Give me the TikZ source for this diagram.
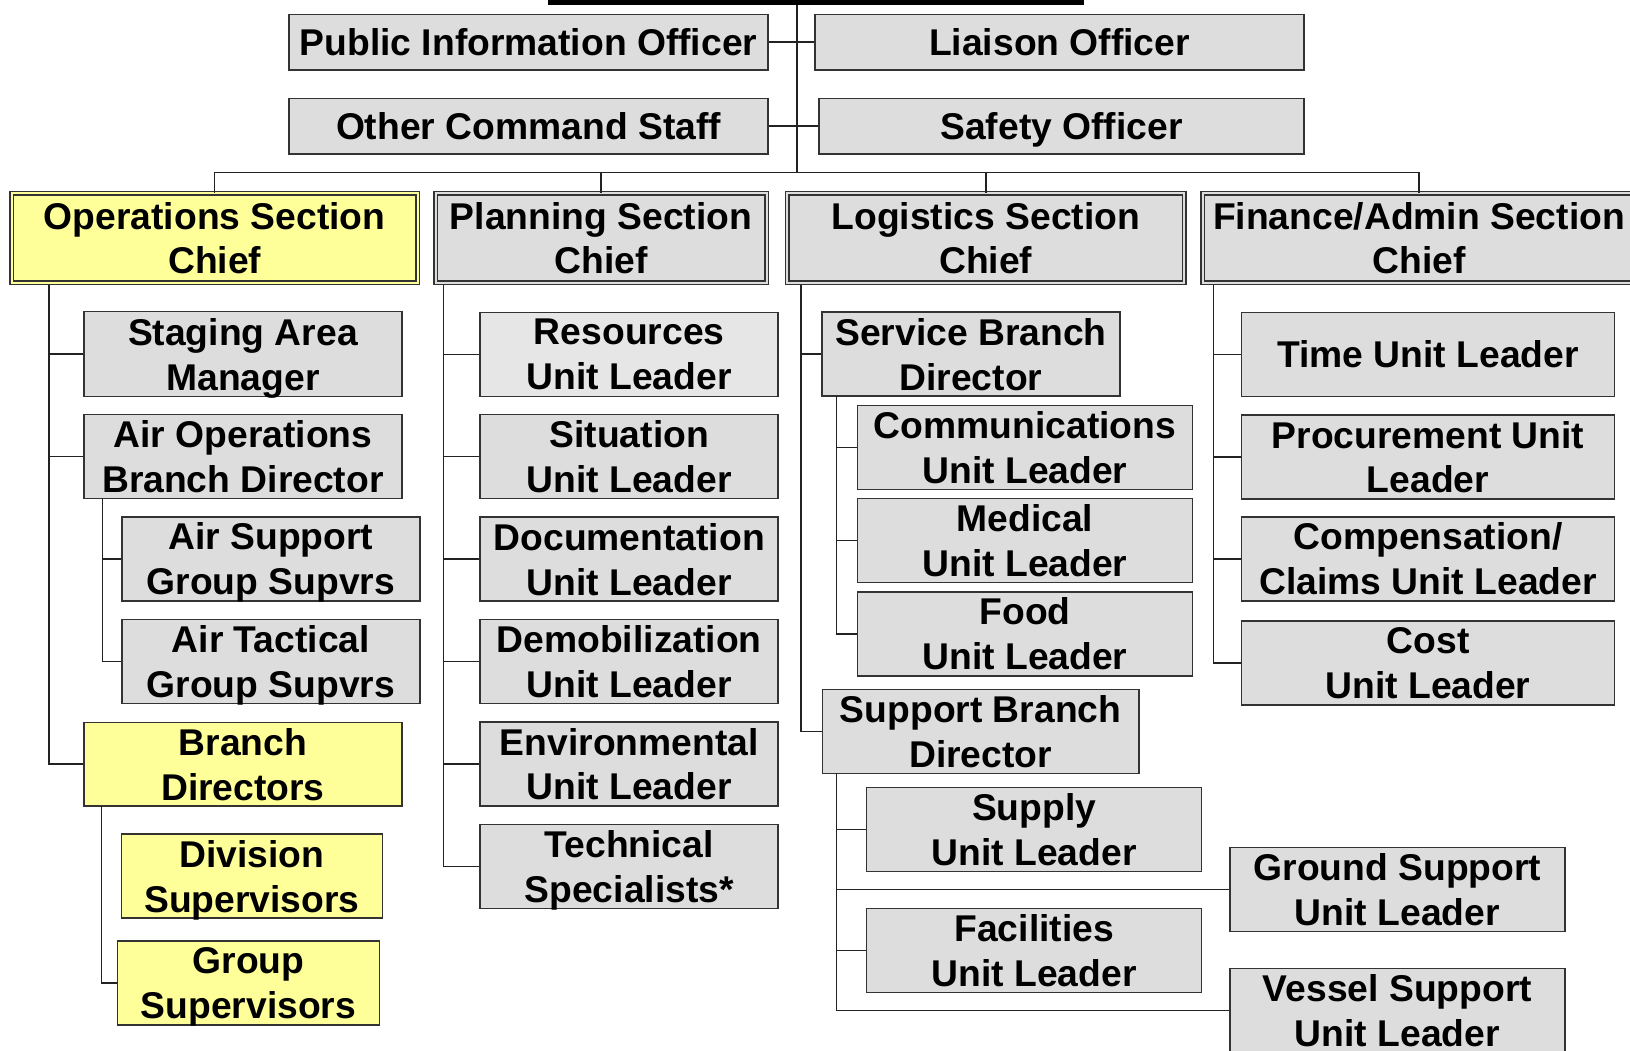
\documentclass[tikz,border=0pt]{standalone}
\usepackage{fontspec}
\setmainfont{Liberation Sans}
\definecolor{boxgray}{HTML}{DDDDDD}
\definecolor{resgray}{HTML}{E6E6E6}
\definecolor{boxyellow}{HTML}{FFFF99}
\definecolor{edgegray}{HTML}{333333}
\definecolor{linkgray}{HTML}{222222}
\newcommand{\orgfont}{\bfseries\fontsize{10.6}{12.8}\selectfont}
\tikzset{
  unit/.style={draw=edgegray,fill=boxgray,line width=0.15mm,align=center,font=\orgfont,inner sep=0pt,text depth=0pt,minimum height=8.4mm},
  yunit/.style={unit,fill=boxyellow},
  chief/.style={unit,double=boxgray,double distance=0.2mm,line width=0.13mm,minimum height=8.94mm},
  ychief/.style={chief,fill=boxyellow,double=boxyellow},
  icbox/.style={draw=black,line width=0.5mm,inner sep=0pt,minimum width=53.1mm,minimum height=10mm},
  link/.style={draw=linkgray,line width=0.15mm},
}
\begin{document}
\begin{tikzpicture}[x=0.1mm,y=-0.1mm]
\useasboundingbox (0,0) rectangle (1630,1050);

% command and staff
\node[icbox] (ic) at (815.5,-47.5) {};
\node[unit,minimum width=47.9mm,minimum height=5.57mm] (pio) at (528.5,42.2) {Public Information Officer};
\node[unit,minimum width=47.9mm,minimum height=5.57mm] (ocs) at (528.5,126.2) {Other Command Staff};
\node[unit,minimum width=48.9mm,minimum height=5.57mm] (lia) at (1059.5,42.2) {Liaison Officer};
\node[unit,minimum width=48.5mm,minimum height=5.57mm] (saf) at (1061.5,126.2) {Safety Officer};
\coordinate (cmd) at (797,172.7);

% section chiefs
\node[ychief,minimum width=40.6mm] (ops) at (214.7,238) {Operations Section\\Chief};
\node[chief,minimum width=33.1mm] (pln) at (601,238) {Planning Section\\Chief};
\node[chief,minimum width=39.7mm] (log) at (985.8,238) {Logistics Section\\Chief};
\node[chief,minimum width=43.3mm] (fin) at (1419,238) {Finance/Admin Section\\Chief};

% operations
\node[unit,minimum width=31.8mm,minimum height=8.5mm] (stg) at (242.9,354.2) {Staging Area\\Manager};
\node[unit,minimum width=31.8mm] (aob) at (242.9,456.3) {Air Operations\\Branch Director};
\node[unit,minimum width=29.8mm] (asg) at (270.9,558.9) {Air Support\\Group Supvrs};
\node[unit,minimum width=29.8mm] (atg) at (270.9,661.3) {Air Tactical\\Group Supvrs};
\node[yunit,minimum width=31.8mm,minimum height=8.37mm] (bdr) at (242.9,764.2) {Branch\\Directors};
\node[yunit,minimum width=26.1mm] (div) at (252,876) {Division\\Supervisors};
\node[yunit,minimum width=26.2mm] (grp) at (248.5,982.9) {Group\\Supervisors};

% planning
\node[unit,fill=resgray,minimum width=29.8mm] (res) at (629.2,354.4) {Resources\\Unit Leader};
\node[unit,minimum width=29.8mm] (sit) at (629.2,456.7) {Situation\\Unit Leader};
\node[unit,minimum width=29.8mm] (doc) at (629.2,559.2) {Documentation\\Unit Leader};
\node[unit,minimum width=29.8mm] (dem) at (629.2,661.3) {Demobilization\\Unit Leader};
\node[unit,minimum width=29.8mm] (env) at (629.2,764) {Environmental\\Unit Leader};
\node[unit,minimum width=29.8mm] (tec) at (629.2,866.3) {Technical\\Specialists*};

% logistics
\node[unit,minimum width=29.8mm] (svc) at (970.9,354.2) {Service Branch\\Director};
\node[unit,minimum width=33.5mm] (com) at (1025,447.5) {Communications\\Unit Leader};
\node[unit,minimum width=33.5mm] (med) at (1025,540.7) {Medical\\Unit Leader};
\node[unit,minimum width=33.5mm] (food) at (1025,633.9) {Food\\Unit Leader};
\node[unit,minimum width=31.65mm] (sbd) at (980.6,731.3) {Support Branch\\Director};
\node[unit,minimum width=33.5mm] (sply) at (1034.2,829.3) {Supply\\Unit Leader};
\node[unit,minimum width=33.5mm] (gnd) at (1397.4,889.7) {Ground Support\\Unit Leader};
\node[unit,minimum width=33.5mm] (fac) at (1034.2,950.7) {Facilities\\Unit Leader};
\node[unit,minimum width=33.5mm] (ves) at (1397.4,1010.7) {Vessel Support\\Unit Leader};

% finance/admin
\node[unit,minimum width=37.3mm] (time) at (1428,354.4) {Time Unit Leader};
\node[unit,minimum width=37.3mm] (proc) at (1428,457) {Procurement Unit\\Leader};
\node[unit,minimum width=37.3mm] (comp) at (1428,558.9) {Compensation/\\Claims Unit Leader};
\node[unit,minimum width=37.3mm] (cost) at (1428,662.9) {Cost\\Unit Leader};

% buses
\coordinate (opsbus) at (49,285);
\coordinate (aobbus) at (102.7,498.3);
\coordinate (bdrbus) at (101.7,806);
\coordinate (plnbus) at (443.3,285);
\coordinate (logbus) at (801,285);
\coordinate (svcbus) at (836.7,396);
\coordinate (sbdbus) at (836.4,773);
\coordinate (finbus) at (1213.3,285);

\draw[link] (ic.south -| cmd) -- (cmd);
\draw[link] (pio.east) -- (lia.west);
\draw[link] (ocs.east) -- (saf.west);
\draw[link] (ops.north) -- (ops.north |- cmd) -- (fin.north |- cmd) -- (fin.north);
\draw[link] (pln.north) -- (pln.north |- cmd);
\draw[link] (log.north) -- (log.north |- cmd);

\foreach \n in {stg,aob,bdr} \draw[link] (\n.west) -| (opsbus);
\foreach \n in {asg,atg} \draw[link] (\n.west) -| (aobbus);
\draw[link] (grp.west) -| (bdrbus);
\foreach \n in {res,sit,doc,dem,env,tec} \draw[link] (\n.west) -| (plnbus);
\foreach \n in {svc,sbd} \draw[link] (\n.west) -| (logbus);
\foreach \n in {com,med,food} \draw[link] (\n.west) -| (svcbus);
\foreach \n in {sply,gnd,fac,ves} \draw[link] (\n.west) -| (sbdbus);
\foreach \n in {time,proc,comp,cost} \draw[link] (\n.west) -| (finbus);

\end{tikzpicture}
\end{document}
